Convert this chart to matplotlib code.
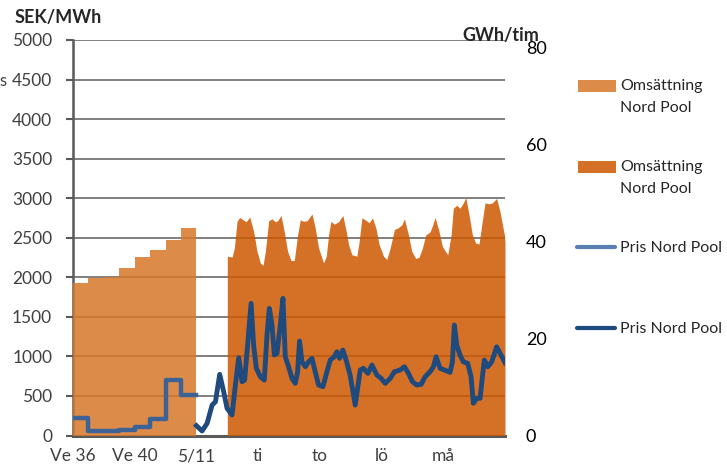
import numpy as np
import matplotlib
matplotlib.use("Agg")
from matplotlib import pyplot as plt
from matplotlib.patches import Rectangle
from matplotlib.lines import Line2D

plt.rcParams['font.family'] = ['Lato', 'DejaVu Sans']

# weekly data (Ve 36 - Ve 43)
week_nr = [36, 37, 38, 39, 40, 41, 42, 43]
week_turnover = [31.5, 32.5, 32.8, 34.6, 36.8, 38.2, 40.4, 42.9]   # GWh/tim
week_price = [225, 57, 57, 70, 111, 205, 706, 515]                 # SEK/MWh

# hourly price from 5/11, hours since start
price_h = [0, 4.4, 8.3, 12.2, 14.8, 18.1, 21.2, 23.8, 27.7, 30.3,
           32.9, 35.5, 37.5, 39.8, 42.5, 44.5, 46.6, 49.7, 52.8, 54.9,
           56.7, 58.8, 60.6, 62.7, 65.2, 67.3, 69.1, 71.7, 74.3, 76.9,
           78.7, 80.2, 82.1, 84.7, 87.2, 89.9, 92.4, 95.0, 98.4, 101.5,
           104.1, 107.2, 109.3, 111.3, 113.9, 116.5, 119.6, 123.5, 127.4, 129.9,
           133.4, 136.5, 140.3, 143.7, 146.8, 150.7, 154.0, 158.4, 161.8, 164.9,
           168.0, 171.4, 174.8, 177.9, 181.7, 184.3, 186.4, 189.5, 192.9, 197.3,
           199.1, 200.6, 202.5, 205.0, 207.6, 211.0, 213.6, 215.4, 218.0, 220.6,
           223.9, 226.6, 229.7, 233.5, 236.9, 240.0]
price_v = [124, 57, 154, 385, 427, 773, 553, 344, 259, 638,
           983, 680, 701, 1143, 1670, 1143, 849, 743, 701, 1270,
           1607, 1396, 1017, 1038, 1396, 1733, 995, 869, 722, 659,
           806, 1194, 932, 869, 932, 975, 806, 638, 617, 806,
           954, 995, 1059, 975, 1080, 950, 760, 385, 828, 849,
           786, 891, 765, 722, 659, 722, 806, 828, 869, 786,
           680, 638, 647, 743, 806, 869, 995, 849, 828, 798,
           932, 1396, 1143, 1017, 932, 912, 743, 407, 470, 470,
           954, 869, 932, 1122, 1017, 920]

# hourly turnover, hours since 5/11
turn_h = [24, 27.7, 29.5, 31.6, 33.6, 36.3, 38.8, 41.4, 44.5, 47.1,
          49.7, 51.8, 53.6, 56.2, 58.8, 61.4, 63.1, 65.8, 68.3, 70.9,
          73.6, 76.1, 78.7, 80.8, 83.3, 86.0, 89.9, 92.4, 95.0, 98.9,
          101.0, 102.8, 104.6, 107.2, 110.5, 113.9, 116.5, 118.3, 120.9, 124.8,
          126.6, 128.7, 131.3, 134.4, 136.9, 139.6, 142.1, 145.5, 148.1, 150.7,
          154.0, 157.1, 159.8, 161.8, 164.9, 167.5, 170.6, 173.2, 175.8, 178.4,
          181.7, 183.5, 185.6, 188.7, 191.3, 193.4, 195.5, 198.1, 199.8, 202.5,
          205.0, 207.6, 209.5, 212.0, 214.6, 217.2, 219.8, 221.9, 224.5, 227.6,
          230.1, 233.5, 236.1, 239.5, 240]
turn_v = [37.0, 36.8, 38.7, 44.2, 45.0, 44.5, 44.1, 45.1, 42.1, 38.0,
          35.6, 35.1, 38.0, 44.3, 44.7, 44.1, 44.3, 45.4, 42.1, 38.0,
          36.1, 36.1, 41.4, 44.5, 44.2, 44.3, 45.7, 42.8, 38.7, 35.6,
          37.0, 41.4, 44.2, 43.6, 44.1, 45.4, 42.1, 39.4, 37.3, 37.0,
          40.1, 44.9, 44.5, 43.9, 44.9, 42.8, 39.4, 37.0, 36.3, 38.7,
          42.5, 42.9, 43.5, 44.7, 41.4, 38.0, 36.5, 36.8, 38.7, 41.4,
          42.0, 43.2, 45.0, 42.1, 39.0, 38.1, 37.3, 41.4, 46.9, 47.5,
          46.9, 48.0, 49.1, 45.6, 41.4, 39.7, 39.5, 43.5, 48.0, 47.8,
          48.0, 48.9, 46.2, 41.4, 40.0]

tick_pos = [0, 2, 4, 6, 8, 10, 12]
tick_labels = ['Ve 36', 'Ve 40', '5/11', 'ti', 'to', 'lö', 'må']

c_week = '#d87729'
c_hour = '#cd5800'
c_pw = '#3d6396'
c_ph = '#1f4a7e'
txt = '#404040'

# x: weeks take half a day unit, hourly part starts at x=4
xw = (np.array(week_nr + [44]) - 36) * 0.5
x_price = 4 + np.array(price_h) / 24
x_turn = 4 + np.array(turn_h) / 24

fig = plt.figure(figsize=(7.27, 4.71), dpi=100)
ax = fig.add_axes([73/727, 35.5/471, 432/727, 395.5/471])
ax2 = ax.twinx()
axp = ax.twinx()

# grid + left axis
ax.set_ylim(0, 5000)
ax.set_yticks(np.arange(0, 5001, 500))
ax.grid(axis='y', color='#6a6a6a', lw=1.2)
ax.set_xlim(0, 14)
ax.set_xticks(tick_pos)
ax.set_xticklabels(tick_labels)
ax.tick_params(axis='x', length=0, pad=9, labelsize=12.5, colors=txt)
ax.tick_params(axis='y', length=5, width=1.5, pad=10, labelsize=12.5,
               colors='#595959', labelcolor=txt, direction='out')
for s in ['top', 'right']:
    ax.spines[s].set_visible(False)
ax.spines['left'].set_color('#595959')
ax.spines['left'].set_linewidth(1.8)
ax.spines['bottom'].set_color('#595959')
ax.spines['bottom'].set_linewidth(2.2)

# turnover areas on right axis
wt = np.append(week_turnover, week_turnover[-1])
ax2.fill_between(xw, 0, wt, step='post', color=c_week, alpha=0.85, lw=0)
ax2.fill_between(x_turn, 0, turn_v, color=c_hour, alpha=0.85, lw=0)
ax2.set_ylim(0, 81.6)
ax2.set_yticks([0, 20, 40, 60, 80])
ax2.tick_params(axis='y', length=0, pad=15, labelsize=13, labelcolor='#000000')
for s in ax2.spines.values():
    s.set_visible(False)

# price lines on top
axp.set_ylim(0, 5000)
wp = np.append(week_price, week_price[-1])
axp.plot(xw, wp, drawstyle='steps-post', color=c_pw, lw=3.2)
axp.plot(x_price, price_v, color=c_ph, lw=3.5, solid_joinstyle='round')
axp.set_axis_off()

fig.text(15/727, 1 - 18/471, 'SEK/MWh', fontsize=13, fontweight='bold',
         color='#262626', va='center', ha='left')
fig.text(501/727, 1 - 35/471, 'GWh/tim', fontsize=13, fontweight='bold',
         color='#262626', va='center', ha='center')
fig.text(-1/727, 1 - 81/471, 's', fontsize=12, color=txt, va='center', ha='left')

# legend, drawn by hand in Excel-like layout
def px(x, y):
    return x / 727, 1 - y / 471

for y, col in [(86, c_week), (167, c_hour)]:
    x0, y0 = px(578, y + 6)
    fig.add_artist(Rectangle((x0, y0), 38/727, 12/471, transform=fig.transFigure,
                             color=col, alpha=0.85, lw=0))
    tx, ty = px(620, y)
    fig.text(tx, ty, 'Omsättning', fontsize=11.5, color='#262626', va='center')
    tx, ty = px(620, y + 22)
    fig.text(tx, ty, 'Nord Pool', fontsize=11.5, color='#262626', va='center')

for y, col in [(247, '#5a80b3'), (328, c_ph)]:
    x0, y0 = px(577, y)
    x1, _ = px(615, y)
    fig.add_artist(Line2D([x0, x1], [y0, y0], transform=fig.transFigure,
                          color=col, lw=3, solid_capstyle='round'))
    tx, ty = px(620, y + 1)
    fig.text(tx, ty, 'Pris Nord Pool', fontsize=11.5, color='#262626', va='center')

fig.savefig('out.png', dpi=100)
